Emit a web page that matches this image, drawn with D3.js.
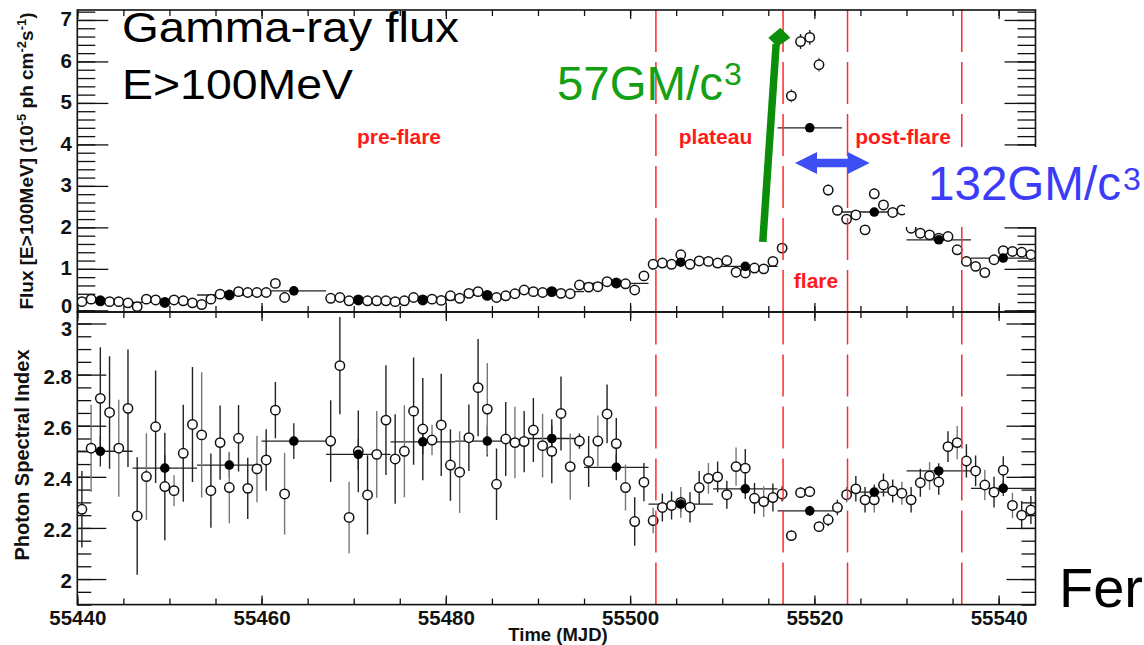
<!DOCTYPE html>
<html>
<head>
<meta charset="utf-8">
<script src="https://cdn.jsdelivr.net/npm/d3@7"></script>
<style>
  body { margin: 0; background: #fff; }
  svg text { font-family: "Liberation Sans", Arial, sans-serif; }
</style>
</head>
<body>
<svg id="chart" width="1144" height="645"></svg>
<script>
// daily bins (MJD, bin centre)
var days = [
  55440.5, 55441.5, 55442.5, 55443.5, 55444.5, 55445.5, 55446.5, 55447.5, 55448.5, 55449.5,
  55450.5, 55451.5, 55452.5, 55453.5, 55454.5, 55455.5, 55456.5, 55457.5, 55458.5, 55459.5,
  55460.5, 55461.5, 55462.5,
  55467.5, 55468.5, 55469.5, 55470.5, 55471.5, 55472.5, 55473.5, 55474.5, 55475.5, 55476.5,
  55477.5, 55478.5, 55479.5,
  55480.5, 55481.5, 55482.5, 55483.5, 55484.5, 55485.5, 55486.5, 55487.5, 55488.5, 55489.5,
  55490.5, 55491.5, 55492.5, 55493.5, 55494.5, 55495.5, 55496.5, 55497.5, 55498.5, 55499.5,
  55500.5, 55501.5, 55502.5, 55503.5, 55504.5, 55505.5, 55506.5, 55507.5, 55508.5, 55509.5,
  55510.5, 55511.5, 55512.5, 55513.5, 55514.5, 55515.5, 55516.5, 55517.5, 55518.5, 55519.5,
  55520.5, 55521.5, 55522.5, 55523.5, 55524.5, 55525.5, 55526.5, 55527.5, 55528.5, 55529.5,
  55530.5, 55531.5, 55532.5, 55533.5, 55534.5, 55535.5, 55536.5, 55537.5, 55538.5, 55539.5,
  55540.5, 55541.5, 55542.5, 55543.5
];
var flux = [
  0.21, 0.27, 0.23, 0.21, 0.21, 0.18, 0.09, 0.27, 0.25, 0.19,
  0.25, 0.23, 0.18, 0.14, 0.27, 0.39, 0.37, 0.45, 0.43, 0.43,
  0.43, 0.65, 0.31,
  0.29, 0.31, 0.23, 0.25, 0.23, 0.23, 0.23, 0.21, 0.23, 0.31, 0.25, 0.27, 0.24,
  0.35, 0.29, 0.41, 0.45, 0.36, 0.31, 0.35, 0.40, 0.49, 0.45,
  0.43, 0.45, 0.41, 0.40, 0.61, 0.56, 0.57, 0.69, 0.66, 0.64,
  0.49, 0.83, 1.11, 1.14, 1.11, 1.34, 1.11, 1.19, 1.18, 1.14,
  1.20, 0.92, 0.90, 1.02, 1.00, 1.18, 1.50, 5.17, 6.48, 6.58,
  5.92, 2.90, 2.41, 2.20, 2.30, 1.94, 2.81, 2.54, 2.36, 2.42,
  1.98, 1.86, 1.82, 1.74, 1.78, 1.46, 1.18, 1.06, 0.91, 1.22,
  1.44, 1.42, 1.40, 1.34
];
var fluxErr = [
  0.04, 0.04, 0.04, 0.04, 0.04, 0.04, 0.03, 0.04, 0.04, 0.04,
  0.04, 0.04, 0.04, 0.03, 0.04, 0.05, 0.05, 0.05, 0.05, 0.05,
  0.05, 0.06, 0.04,
  0.04, 0.04, 0.04, 0.04, 0.04, 0.04, 0.04, 0.04, 0.04, 0.04, 0.04, 0.04, 0.04,
  0.04, 0.04, 0.05, 0.05, 0.05, 0.04, 0.04, 0.05, 0.05, 0.05,
  0.05, 0.05, 0.05, 0.05, 0.06, 0.06, 0.06, 0.06, 0.06, 0.06,
  0.06, 0.07, 0.08, 0.08, 0.08, 0.09, 0.08, 0.08, 0.08, 0.08,
  0.08, 0.07, 0.07, 0.08, 0.08, 0.08, 0.10, 0.16, 0.18, 0.18,
  0.17, 0.13, 0.12, 0.12, 0.12, 0.11, 0.13, 0.12, 0.12, 0.12,
  0.11, 0.10, 0.10, 0.10, 0.10, 0.09, 0.08, 0.08, 0.07, 0.09,
  0.09, 0.09, 0.09, 0.09
];
var photonIndex = [
  2.273, 2.512, 2.707, 2.652, 2.512, 2.668, 2.247, 2.401, 2.596, 2.362,
  2.346, 2.492, 2.605, 2.564, 2.346, 2.534, 2.358, 2.551, 2.355, 2.431,
  2.466, 2.661, 2.333,
  2.540, 2.835, 2.241, 2.500, 2.329, 2.488, 2.622, 2.470, 2.500, 2.657, 2.587, 2.544, 2.603,
  2.446, 2.418, 2.553, 2.749, 2.665, 2.371, 2.548, 2.534, 2.538, 2.583,
  2.522, 2.500, 2.648, 2.440, 2.540, 2.460, 2.540, 2.646, 2.530, 2.358,
  2.225, 2.379, 2.229, 2.280, 2.288, 2.300, 2.281, 2.358, 2.394, 2.400,
  2.330, 2.440, 2.434, 2.316, 2.303, 2.319, 2.333, 2.170, 2.338, 2.342,
  2.205, 2.232, 2.280, 2.330, 2.353, 2.310, 2.310, 2.368, 2.345, 2.336,
  2.310, 2.377, 2.403, 2.380, 2.518, 2.534, 2.462, 2.423, 2.368, 2.340,
  2.426, 2.288, 2.250, 2.270
];
var photonIndexErr = [
  0.150, 0.170, 0.200, 0.220, 0.190, 0.230, 0.230, 0.170, 0.220, 0.210,
  0.060, 0.190, 0.225, 0.245, 0.145, 0.145, 0.140, 0.130, 0.120, 0.130,
  0.120, 0.110, 0.160,
  0.160, 0.190, 0.140, 0.160, 0.155, 0.170, 0.215, 0.175, 0.180, 0.210, 0.200, 0.060, 0.200,
  0.140, 0.160, 0.130, 0.190, 0.180, 0.140, 0.145, 0.140, 0.120, 0.125,
  0.125, 0.125, 0.145, 0.130, 0.030, 0.100, 0.100, 0.115, 0.100, 0.090,
  0.095, 0.075, 0.050, 0.055, 0.055, 0.060, 0.060, 0.065, 0.060, 0.060,
  0.055, 0.075, 0.075, 0.060, 0.060, 0.055, 0.030, 0.020, 0.020, 0.020,
  0.020, 0.025, 0.030, 0.030, 0.050, 0.050, 0.050, 0.045, 0.045, 0.045,
  0.050, 0.055, 0.055, 0.050, 0.060, 0.065, 0.065, 0.060, 0.060, 0.060,
  0.055, 0.050, 0.055, 0.055
];

// weekly bins
var weekDays = [55442.5, 55449.5, 55456.5, 55463.5, 55470.5, 55477.5, 55484.5, 55491.5,
                55498.5, 55505.5, 55512.5, 55519.5, 55526.5, 55533.5, 55540.5];
var weekFlux = [0.23, 0.19, 0.37, 0.47, 0.25, 0.25, 0.36, 0.45, 0.65, 1.16, 1.06, 4.40, 2.37, 1.70, 1.26];
var weekFluxErr = [0.02, 0.02, 0.02, 0.03, 0.02, 0.02, 0.02, 0.03, 0.03, 0.04, 0.04, 0.08, 0.06, 0.05, 0.05];
var weekIndex = [2.500, 2.434, 2.446, 2.540, 2.488, 2.537, 2.540, 2.550, 2.437, 2.293, 2.353, 2.267, 2.340, 2.423, 2.355];
var weekIndexErr = [0.06, 0.05, 0.05, 0.07, 0.06, 0.05, 0.06, 0.05, 0.05, 0.03, 0.04, 0.02, 0.03, 0.03, 0.03];

var periodEdges = [55502.8, 55516.6, 55523.6, 55536.0];
var xTickLabels = [55440, 55460, 55480, 55500, 55520, 55540];
var fluxTicks = [0, 1, 2, 3, 4, 5, 6, 7];
var indexTicks = [2, 2.2, 2.4, 2.6, 2.8, 3];

var svg = d3.select("#chart");
var left = 77.3, right = 1035.5, top1 = 10, mid = 312, bot = 604.6;

var x = d3.scaleLinear().domain([55440, 55544]).range([left, right]);
var yF = d3.scaleLinear().domain([-0.04, 7.24]).range([mid, top1]);
var yI = d3.scaleLinear().domain([1.9, 3.045]).range([bot, mid]);

var defs = svg.append("defs");
defs.append("clipPath").attr("id", "clipTop").append("rect")
    .attr("x", left).attr("y", top1).attr("width", right - left).attr("height", mid - top1);
defs.append("clipPath").attr("id", "clipBot").append("rect")
    .attr("x", left).attr("y", mid).attr("width", right - left).attr("height", bot - mid);

function styleAxis(g) {
    g.select(".domain").remove();
    g.selectAll(".tick line").attr("stroke", "#111").attr("stroke-width", 1.3);
    g.selectAll(".tick text").attr("fill", "#111").attr("font-size", 20.5).attr("font-weight", "bold")
        .attr("font-family", '"Liberation Sans", Arial, sans-serif');
}

var xMinor = d3.range(55440, 55545, 5);

function xAxes(yTop, yBottom, labels) {
    svg.append("g").attr("transform", "translate(0," + yTop + ")")
        .call(d3.axisTop(x).tickValues(xMinor).tickSize(-6).tickFormat("")).call(styleAxis);
    svg.append("g").attr("transform", "translate(0," + yTop + ")")
        .call(d3.axisTop(x).tickValues(xTickLabels).tickSize(-9).tickFormat("")).call(styleAxis);
    svg.append("g").attr("transform", "translate(0," + yBottom + ")")
        .call(d3.axisBottom(x).tickValues(xMinor).tickSize(-6).tickFormat("")).call(styleAxis);
    svg.append("g").attr("transform", "translate(0," + yBottom + ")")
        .call(d3.axisBottom(x).tickValues(xTickLabels).tickSize(-9).tickPadding(5.5)
            .tickFormat(labels ? d3.format("d") : ""))
        .call(styleAxis);
}

function yAxes(y, majors, minors, majLen, minLen, fmt, labelDy) {
    svg.append("g").attr("transform", "translate(" + left + ",0)")
        .call(d3.axisLeft(y).tickValues(minors).tickSize(-minLen).tickFormat("")).call(styleAxis);
    var ax = svg.append("g").attr("transform", "translate(" + left + ",0)")
        .call(d3.axisLeft(y).tickValues(majors).tickSize(-majLen).tickPadding(5.3).tickFormat(fmt)).call(styleAxis);
    ax.selectAll(".tick text").attr("dy", labelDy);
    svg.append("g").attr("transform", "translate(" + right + ",0)")
        .call(d3.axisRight(y).tickValues(minors).tickSize(-minLen).tickFormat("")).call(styleAxis);
    svg.append("g").attr("transform", "translate(" + right + ",0)")
        .call(d3.axisRight(y).tickValues(majors).tickSize(-majLen).tickFormat("")).call(styleAxis);
    return ax;
}

xAxes(top1, mid, false);
xAxes(mid, bot, true);
var fluxAx = yAxes(yF, fluxTicks, d3.range(0, 7.21, 0.2), 31, 18, d3.format("d"), "0.28em");
var indexAx = yAxes(yI, indexTicks, d3.range(1.9, 3.046, 0.05), 29, 14, function(d) { return d3.format("~g")(d); }, "0.42em");
// the "0" and "3" labels meet at the panel seam: nudge them apart
fluxAx.selectAll(".tick text").filter(function(d) { return d === 0; }).attr("dy", "0.1em").attr("font-size", 20);
indexAx.selectAll(".tick text").filter(function(d) { return d === 3; }).attr("dy", "0.58em").attr("font-size", 20);

// data panels
function panel(y, clipId, vals, errs, wvals, werrs) {
    var g = svg.append("g").attr("clip-path", "url(#" + clipId + ")");
    var daily = days.map(function(d, i) { return {d: d, v: vals[i], e: errs[i]}; });
    var weekly = weekDays.map(function(d, i) { return {d: d, v: wvals[i], e: werrs[i]}; });

    // weekly bars
    g.selectAll(".wh").data(weekly).enter().append("line")
        .attr("x1", function(p) { return x(p.d - 3.5); })
        .attr("x2", function(p) { return x(p.d + 3.5); })
        .attr("y1", function(p) { return y(p.v); })
        .attr("y2", function(p) { return y(p.v); })
        .attr("stroke", "#222").attr("stroke-width", 1.3);
    g.selectAll(".wv").data(weekly).enter().append("line")
        .attr("x1", function(p) { return x(p.d); })
        .attr("x2", function(p) { return x(p.d); })
        .attr("y1", function(p) { return y(p.v - p.e); })
        .attr("y2", function(p) { return y(p.v + p.e); })
        .attr("stroke", "#222").attr("stroke-width", 1.3);

    // daily error bars + open markers
    g.selectAll(".dv").data(daily).enter().append("line")
        .attr("x1", function(p) { return x(p.d); })
        .attr("x2", function(p) { return x(p.d); })
        .attr("y1", function(p) { return y(p.v - p.e); })
        .attr("y2", function(p) { return y(p.v + p.e); })
        .attr("stroke", function(p, i) { return i % 3 == 1 ? "#777" : "#222"; })
        .attr("stroke-width", 1.4);
    g.selectAll(".dc").data(daily).enter().append("circle")
        .attr("cx", function(p) { return x(p.d); })
        .attr("cy", function(p) { return y(p.v); })
        .attr("r", 4.7)
        .attr("fill", "#fff").attr("stroke", "#111").attr("stroke-width", 1.5);

    g.selectAll(".wc").data(weekly).enter().append("circle")
        .attr("cx", function(p) { return x(p.d); })
        .attr("cy", function(p) { return y(p.v); })
        .attr("r", 4.8)
        .attr("fill", "#000");

    // period boundaries, dashes counted from the bottom of the panel
    g.selectAll(".pe").data(periodEdges).enter().append("line")
        .attr("x1", function(d) { return x(d); })
        .attr("x2", function(d) { return x(d); })
        .attr("y1", y.range()[0])
        .attr("y2", y.range()[1])
        .attr("stroke", "#ff2a2a").attr("stroke-width", 1.5)
        .attr("stroke-dasharray", "42,10");
}

panel(yF, "clipTop", flux, fluxErr, weekFlux, weekFluxErr);
panel(yI, "clipBot", photonIndex, photonIndexErr, weekIndex, weekIndexErr);

// frames
svg.append("rect").attr("x", left).attr("y", top1).attr("width", right - left).attr("height", mid - top1)
    .attr("fill", "none").attr("stroke", "#111").attr("stroke-width", 1.6);
svg.append("rect").attr("x", left).attr("y", mid).attr("width", right - left).attr("height", bot - mid)
    .attr("fill", "none").attr("stroke", "#111").attr("stroke-width", 1.6);

// axis titles
var ft = svg.append("text").attr("transform", "translate(33,161) rotate(-90)")
    .attr("text-anchor", "middle").attr("font-size", 19).attr("font-weight", "bold").attr("fill", "#111");
ft.append("tspan").text("Flux [E>100MeV] (10");
ft.append("tspan").attr("dy", -7).attr("font-size", 13).text("-5");
ft.append("tspan").attr("dy", 7).text(" ph cm");
ft.append("tspan").attr("dy", -7).attr("font-size", 13).text("-2");
ft.append("tspan").attr("dy", 7).text("s");
ft.append("tspan").attr("dy", -7).attr("font-size", 13).text("-1");
ft.append("tspan").attr("dy", 7).text(")");

svg.append("text").attr("transform", "translate(29,455) rotate(-90)")
    .attr("text-anchor", "middle").attr("font-size", 20).attr("font-weight", "bold").attr("fill", "#111")
    .text("Photon Spectral Index");
svg.append("text").attr("x", 558).attr("y", 641)
    .attr("text-anchor", "middle").attr("font-size", 18.5).attr("font-weight", "bold").attr("fill", "#111")
    .text("Time (MJD)");

// period labels
var periodLabels = [
    {t: "pre-flare", x: 399, y: 144},
    {t: "plateau", x: 715.5, y: 144},
    {t: "post-flare", x: 903, y: 143.5},
    {t: "flare", x: 816, y: 288}
];
svg.selectAll(".pl").data(periodLabels).enter().append("text")
    .attr("x", function(d) { return d.x; }).attr("y", function(d) { return d.y; })
    .attr("text-anchor", "middle").attr("font-size", 21).attr("font-weight", "bold")
    .attr("fill", "#ff1a1a").text(function(d) { return d.t; });

// overlay annotations
svg.append("text").attr("x", 122).attr("y", 42).attr("font-size", 43)
    .attr("textLength", 337).attr("lengthAdjust", "spacingAndGlyphs").text("Gamma-ray flux");
svg.append("text").attr("x", 122).attr("y", 98.5).attr("font-size", 43)
    .attr("textLength", 231).attr("lengthAdjust", "spacingAndGlyphs").text("E>100MeV");

svg.append("text").attr("x", 557).attr("y", 100).attr("font-size", 48).attr("fill", "#14a014")
    .attr("textLength", 166).attr("lengthAdjust", "spacingAndGlyphs").text("57GM/c");
svg.append("text").attr("x", 724).attr("y", 85).attr("font-size", 32).attr("fill", "#14a014").text("3");

// green arrow
var gx0 = x(55514.4), gy0 = yF(1.65), gx1 = x(55515.85), gy1 = yF(6.42);
svg.append("line").attr("x1", gx0).attr("y1", gy0).attr("x2", gx1).attr("y2", gy1)
    .attr("stroke", "#0b8f0b").attr("stroke-width", 7.5);
var hx = x(55516.2), hy = yF(6.57);
svg.append("polygon")
    .attr("points", [[hx - 11, hy], [hx + 1, hy - 10], [hx + 11, hy], [hx - 2, hy + 9]].join(" "))
    .attr("fill", "#0b8f0b");

// white box + blue text
svg.append("rect").attr("x", 905).attr("y", 147).attr("width", 239).attr("height", 80).attr("fill", "#fff");
svg.append("text").attr("x", 928).attr("y", 200).attr("font-size", 48).attr("fill", "#3c3cf8")
    .attr("textLength", 193).attr("lengthAdjust", "spacingAndGlyphs").text("132GM/c");
svg.append("text").attr("x", 1123).attr("y", 190).attr("font-size", 32).attr("fill", "#3c3cf8").text("3");

// blue double arrow
var bx1 = x(55517.9), bx2 = x(55526.0), by = yF(3.55);
var hl = 22, hh = 11, sh = 4.2;
svg.append("polygon")
    .attr("points", [[bx1, by], [bx1 + hl, by - hh], [bx1 + hl, by - sh], [bx2 - hl, by - sh], [bx2 - hl, by - hh],
                     [bx2, by], [bx2 - hl, by + hh], [bx2 - hl, by + sh], [bx1 + hl, by + sh], [bx1 + hl, by + hh]]
        .join(" "))
    .attr("fill", "#3d4ef2");

svg.append("text").attr("x", 1059).attr("y", 607).attr("font-size", 56).attr("fill", "#000").text("Fer");
</script>
</body>
</html>
